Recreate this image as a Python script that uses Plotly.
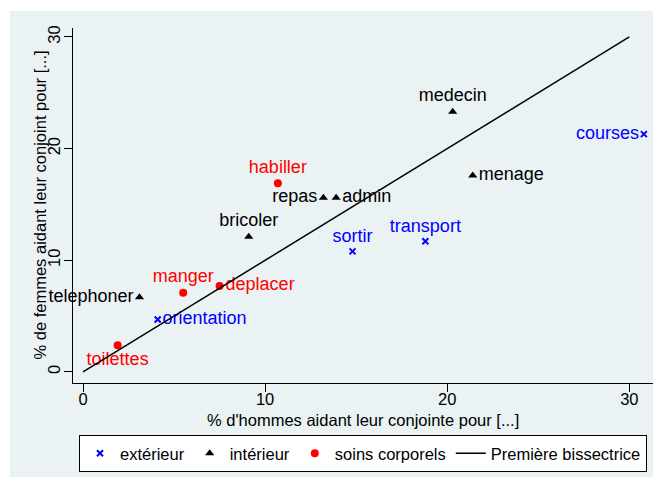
import plotly.graph_objects as go

# extérieur
ext_names = ["courses", "transport", "sortir", "orientation"]
ext_x = [30.8, 18.8, 14.8, 4.1]
ext_y = [21.3, 11.7, 10.8, 4.7]
ext_pos = ["middle left", "top center", "top center", "middle right"]

# intérieur
int_names = ["medecin", "menage", "repas", "admin", "bricoler", "telephoner"]
int_x = [20.3, 21.4, 13.2, 13.9, 9.1, 3.1]
int_y = [23.3, 17.6, 15.6, 15.6, 12.1, 6.7]
int_pos = ["top center", "middle right", "middle left", "middle right", "top center", "middle left"]

# soins corporels
soin_names = ["habiller", "manger", "deplacer", "toilettes"]
soin_x = [10.7, 5.5, 7.5, 1.9]
soin_y = [16.9, 7.1, 7.7, 2.4]
soin_pos = ["top center", "top center", "middle right", "bottom center"]

# Première bissectrice
line_x = [0, 30]
line_y = [0, 30]

x_ticks = [0, 10, 20, 30]
y_ticks = [0, 10, 20, 30]

x_title = "% d'hommes aidant leur conjointe pour [...]"
y_title = "% de femmes aidant leur conjoint pour [...]"

FONT = "Liberation Sans, Arial, sans-serif"
BG = "#EAF2F3"
LBL = 18

fig = go.Figure()
fig.add_trace(go.Scatter(
    x=ext_x, y=ext_y, text=ext_names, mode="markers+text", textposition=ext_pos,
    marker=dict(symbol="x-thin", size=6, color="#0000FF", line=dict(width=2, color="#0000FF")),
    textfont=dict(color="#0000FF", size=LBL, family=FONT), name="extérieur", cliponaxis=False))
fig.add_trace(go.Scatter(
    x=int_x, y=int_y, text=int_names, mode="markers+text", textposition=int_pos,
    marker=dict(symbol="triangle-up", size=8, color="black"),
    textfont=dict(color="black", size=LBL, family=FONT), name="intérieur", cliponaxis=False))
fig.add_trace(go.Scatter(
    x=soin_x, y=soin_y, text=soin_names, mode="markers+text", textposition=soin_pos,
    marker=dict(symbol="circle", size=8, color="#FF0000"),
    textfont=dict(color="#FF0000", size=LBL, family=FONT), name="soins corporels", cliponaxis=False))
fig.add_trace(go.Scatter(
    x=line_x, y=line_y, mode="lines", line=dict(color="black", width=1.5),
    name="Première bissectrice"))

# the page has an 8px body margin, figure sized to fit the window
W, H = 653, 469
ml, mr, mt, mb = 65, 8, 20, 94
pw, ph = W - ml - mr, H - mt - mb

def px_x(x):
    return (x - ml) / pw

def px_y(y):
    return (mt + ph - y) / ph

fig.add_shape(type="rect", xref="paper", yref="paper",
              x0=px_x(2), x1=px_x(W), y0=px_y(H), y1=px_y(3),
              fillcolor=BG, line=dict(width=0), layer="below")

fig.add_annotation(text=y_title, xref="paper", yref="paper", x=px_x(31), y=0.5,
                   textangle=-90, showarrow=False, xanchor="center", yanchor="middle",
                   font=dict(size=16.5))
fig.add_annotation(text=x_title, xref="paper", yref="paper", x=0.5, y=px_y(412),
                   showarrow=False, xanchor="center", yanchor="middle",
                   font=dict(size=16.5))

fig.update_layout(
    width=W, height=H,
    margin=dict(l=ml, r=mr, t=mt, b=mb, autoexpand=False),
    paper_bgcolor="white", plot_bgcolor="white",
    font=dict(family=FONT, size=16, color="black"),
    showlegend=True,
    legend=dict(orientation="h", x=0.5, xanchor="center", y=px_y(427), yanchor="top",
                bgcolor="white", bordercolor="black", borderwidth=1,
                font=dict(size=16.5), itemwidth=30, tracegroupgap=0),
    xaxis=dict(range=[-0.55, 31.3], tickvals=x_ticks, showgrid=False, zeroline=False,
               showline=True, linecolor="black", linewidth=1, ticks="outside", ticklen=8,
               tickcolor="black", tickfont=dict(size=16.5), automargin=False,
               ticklabelstandoff=-7),
    yaxis=dict(range=[-0.99, 30.8], tickvals=y_ticks, showgrid=True, gridcolor=BG, gridwidth=1.5,
               zeroline=False, showline=True, linecolor="black", linewidth=1, ticks="outside",
               ticklen=8, tickcolor="black", tickangle=-90, tickfont=dict(size=16.5), automargin=False,
               ticklabelstandoff=-3),
)

fig.write_html("out.html")
